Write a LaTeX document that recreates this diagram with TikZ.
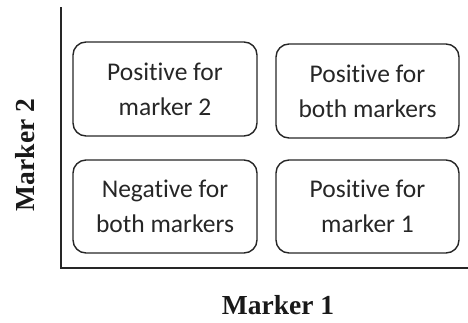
\documentclass[tikz,border=0pt]{standalone}
\usepackage{fontspec}
\setmainfont{Liberation Serif}
\newfontfamily\boxfont[Ligatures=NoCommon]{Carlito}
\begin{document}
\begin{tikzpicture}[x=1pt,y=-1pt]
\tikzset{
  cell/.style={draw=black!85, line width=1.4pt, rounded corners=13pt, align=center,
    font=\boxfont\fontsize{25.5}{35}\selectfont, text=black!85, inner sep=0pt},
  axis/.style={draw=black!85, line width=2pt},
  axlabel/.style={font=\bfseries\fontsize{27.5}{32}\selectfont, text=black!90, inner sep=0pt}
}
\useasboundingbox (0,0) rectangle (468,322);
\coordinate (top) at (61,7);
\coordinate (origin) at (61,268);
\coordinate (right) at (468,268);
\draw[axis, line cap=butt] (top) -- (origin) -- (right);
\node[cell, minimum width=184pt, minimum height=94pt] (m2) at (165,89) {Positive for\\marker 2};
\node[cell, minimum width=183pt, minimum height=94pt] (both) at (367.5,91) {Positive for\\both markers};
\node[cell, minimum width=184pt, minimum height=93pt] (neg) at (165,206.5) {Negative for\\both markers};
\node[cell, minimum width=183pt, minimum height=93pt] (m1) at (367.5,206.5) {Positive for\\marker 1};
\node[axlabel, rotate=90] (ylab) at (25,155) {Marker 2};
\node[axlabel] (xlab) at (278,305) {Marker 1};
\end{tikzpicture}
\end{document}
